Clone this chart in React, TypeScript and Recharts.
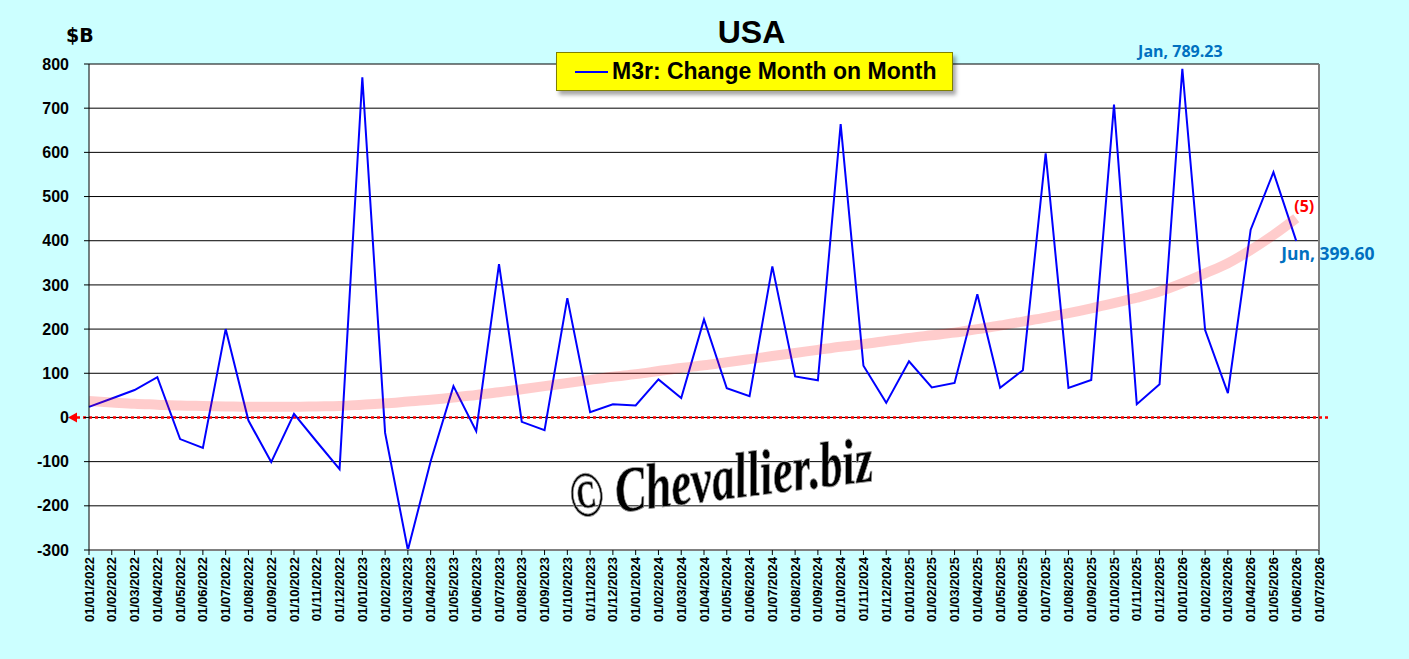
import React from 'react'
import {
  LineChart,
  Line,
  XAxis,
  YAxis,
  CartesianGrid,
  ReferenceLine,
} from 'recharts'

const monthLabels = [
  '01/01/2022', '01/02/2022', '01/03/2022', '01/04/2022', '01/05/2022', '01/06/2022',
  '01/07/2022', '01/08/2022', '01/09/2022', '01/10/2022', '01/11/2022', '01/12/2022',
  '01/01/2023', '01/02/2023', '01/03/2023', '01/04/2023', '01/05/2023', '01/06/2023',
  '01/07/2023', '01/08/2023', '01/09/2023', '01/10/2023', '01/11/2023', '01/12/2023',
  '01/01/2024', '01/02/2024', '01/03/2024', '01/04/2024', '01/05/2024', '01/06/2024',
  '01/07/2024', '01/08/2024', '01/09/2024', '01/10/2024', '01/11/2024', '01/12/2024',
  '01/01/2025', '01/02/2025', '01/03/2025', '01/04/2025', '01/05/2025', '01/06/2025',
  '01/07/2025', '01/08/2025', '01/09/2025', '01/10/2025', '01/11/2025', '01/12/2025',
  '01/01/2026', '01/02/2026', '01/03/2026', '01/04/2026', '01/05/2026', '01/06/2026',
  '01/07/2026',
]

// M3r change month on month, $B
const m3rChange = [
  24, 43, 62, 91, -49, -69, 200, -7, -101, 8, -55, -117,
  770, -35, -300, -99, 71, -31, 347, -10, -29, 270, 12, 30,
  27, 86, 44, 222, 66, 48, 342, 93, 84, 664, 117, 33,
  127, 68, 78, 279, 67, 107, 598, 67, 85, 708, 30, 75,
  789.23, 198, 55, 425, 555, 399.6,
]

// polynomial trend (order 5)
const trend5 = [
  37, 34, 31, 29, 27, 26, 25, 24, 24, 24, 25, 26,
  29, 32, 36, 40, 45, 51, 57, 64, 71, 78, 85, 92,
  98, 105, 112, 118, 125, 132, 139, 146, 153, 160, 166, 173,
  180, 186, 192, 200, 208, 217, 226, 236, 247, 259, 271, 285,
  304, 326, 349, 379, 413, 451,
]

const yTicks = [-300, -200, -100, 0, 100, 200, 300, 400, 500, 600, 700, 800]

const data = m3rChange.map((v, i) => ({ i, m3r: v, trend: trend5[i] }))
const xTicks = monthLabels.map((_, i) => i)

const monthNames = ['Jan', 'Feb', 'Mar', 'Apr', 'May', 'Jun', 'Jul', 'Aug', 'Sep', 'Oct', 'Nov', 'Dec']
const peakIndex = 48
const lastIndex = m3rChange.length - 1

const labelFont = '"Open Sans", "Noto Sans", sans-serif'

const DateTick = ({ x, y, payload }: any) => (
  <text
    transform={`translate(${x},${y}) rotate(-90)`}
    textAnchor="end"
    dy="0.35em"
    fontFamily="Arial, 'Liberation Sans', sans-serif"
    fontWeight="bold"
    fontSize={13}
    fill="#000"
  >
    {monthLabels[payload.value]}
  </text>
)

const m3rLabel = (props: any) => {
  const { x, y, index, value } = props
  if (index === peakIndex) {
    return (
      <text x={x - 2} y={y - 12} textAnchor="middle" fontFamily={labelFont} fontWeight="bold" fontSize={16} fill="#0070C0">
        {`${monthNames[index % 12]}, ${Number(value).toFixed(2)}`}
      </text>
    )
  }
  if (index === lastIndex) {
    return (
      <text x={x - 15} y={y + 19} textAnchor="start" fontFamily={labelFont} fontWeight="bold" fontSize={17.5} fill="#0070C0">
        {`${monthNames[index % 12]}, ${Number(value).toFixed(2)}`}
      </text>
    )
  }
  return <g />
}

const trendLabel = (props: any) => {
  const { x, y, index } = props
  if (index !== lastIndex) return <g />
  return (
    <text x={x - 2} y={y - 6} textAnchor="start" fontFamily={labelFont} fontWeight="bold" fontSize={16} fill="#FF0000">
      (5)
    </text>
  )
}

const ZeroLine = (props: any) => {
  const { x1, x2, y1 } = props
  return (
    <g>
      <line x1={x1 - 12} y1={y1} x2={x2 + 10} y2={y1} stroke="#FF0000" strokeWidth={2.5} strokeDasharray="3 3" />
      <polygon points={`${x1 - 21},${y1} ${x1 - 12},${y1 - 5} ${x1 - 12},${y1 + 5}`} fill="#FF0000" />
    </g>
  )
}

export default function App() {
  return (
    <div
      style={{
        position: 'absolute',
        left: 0,
        top: 0,
        width: 1409,
        height: 659,
        background: '#CCFFFF',
        fontFamily: 'Arial, "Liberation Sans", sans-serif',
        overflow: 'hidden',
      }}
    >
      <div style={{ position: 'absolute', left: 0, width: 1503, top: 14, textAlign: 'center', fontSize: 32, fontWeight: 'bold', color: '#000' }}>
        USA
      </div>
      <div style={{ position: 'absolute', left: 66, top: 24, fontSize: 19, fontWeight: 'bold', fontFamily: '"DejaVu Sans", sans-serif', color: '#000' }}>
        $B
      </div>

      <LineChart width={1409} height={659} data={data} margin={{ top: 64, right: 90, bottom: 9, left: 29 }}>
        <CartesianGrid vertical={false} stroke="#000" strokeOpacity={1} fill="#FFFFFF" fillOpacity={1} />
        <XAxis
          dataKey="i"
          type="number"
          domain={[0, monthLabels.length - 1]}
          ticks={xTicks}
          interval={0}
          height={100}
          tickSize={5}
          tickMargin={2}
          tick={<DateTick />}
          axisLine={{ stroke: '#808080', strokeWidth: 2 }}
          tickLine={{ stroke: '#000' }}
        />
        <YAxis
          type="number"
          domain={[-300, 800]}
          ticks={yTicks}
          interval={0}
          width={60}
          tickSize={5}
          tickMargin={15}
          tick={{ fill: '#000', fontSize: 16, fontWeight: 'bold', fontFamily: 'Arial, "Liberation Sans", sans-serif' }}
          axisLine={{ stroke: '#000' }}
          tickLine={{ stroke: '#000' }}
        />
        <ReferenceLine x={monthLabels.length - 1} stroke="#808080" strokeWidth={2} />
        <ReferenceLine y={0} shape={<ZeroLine />} />
        <Line
          dataKey="m3r"
          stroke="#0000FF"
          strokeWidth={2}
          dot={false}
          activeDot={false}
          isAnimationActive={false}
          label={m3rLabel}
        />
        <Line
          dataKey="trend"
          type="monotone"
          stroke="#FF0000"
          strokeOpacity={0.2}
          strokeWidth={10}
          dot={false}
          activeDot={false}
          isAnimationActive={false}
          label={trendLabel}
        />
      </LineChart>

      <div
        style={{
          position: 'absolute',
          left: 556,
          top: 52,
          width: 395,
          height: 37,
          background: '#FFFF00',
          border: '1px solid #808000',
          boxShadow: '3px 4px 4px rgba(0,0,0,0.35)',
          display: 'flex',
          alignItems: 'center',
        }}
      >
        <div style={{ marginLeft: 18, width: 33, height: 2, background: '#0000FF' }} />
        <div style={{ marginLeft: 4, fontSize: 23, fontWeight: 'bold', color: '#000', whiteSpace: 'nowrap' }}>
          M3r: Change Month on Month
        </div>
      </div>

      <svg width={1409} height={659} style={{ position: 'absolute', left: 0, top: 0, pointerEvents: 'none' }}>
        <text
          transform="translate(572,518) rotate(-7) scale(1,1.4)"
          fontFamily='"Liberation Serif", "DejaVu Serif", serif'
          fontStyle="italic"
          fontWeight="bold"
          fontSize={46}
          fill="#000"
          stroke="#999"
          strokeWidth={0.6}
        >
          © Chevallier.biz
        </text>
      </svg>
    </div>
  )
}
